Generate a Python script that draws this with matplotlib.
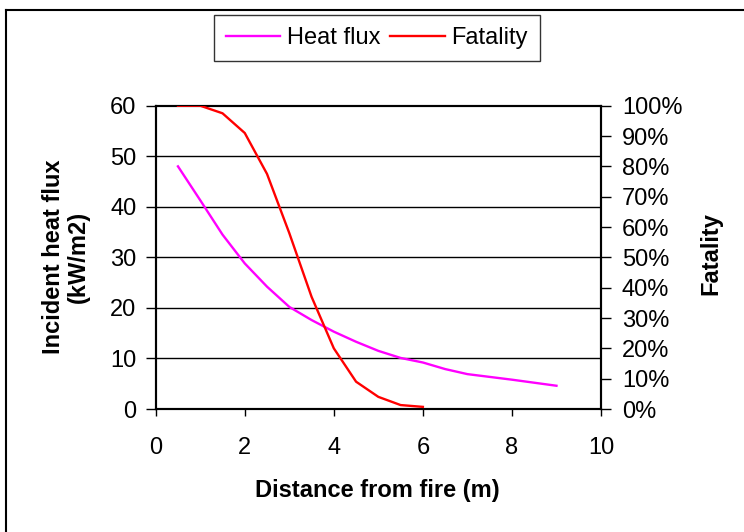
import matplotlib
matplotlib.use("Agg")
import matplotlib.pyplot as plt
from matplotlib.lines import Line2D
from matplotlib.ticker import PercentFormatter, MultipleLocator

plt.rcParams['font.family'] = ['Liberation Sans', 'DejaVu Sans']

# Incident heat flux (kW/m2) versus distance from the fire (m)
flux_distance = [0.5, 1.0, 1.5, 2.0, 2.5, 3.0, 3.5, 4.0, 4.5, 5.0, 5.5, 6.0, 6.5, 7.0, 8.0, 9.0]
heat_flux = [48.0, 41.3, 34.5, 28.8, 24.2, 20.2, 17.6, 15.3, 13.3, 11.5, 10.1, 9.2, 7.9, 6.9, 5.8, 4.6]

# Probability of fatality versus distance from the fire (m)
fatality_distance = [0.5, 1.0, 1.5, 2.0, 2.5, 3.0, 3.5, 4.0, 4.5, 5.0, 5.5, 6.0]
fatality = [1.00, 1.00, 0.975, 0.91, 0.775, 0.58, 0.37, 0.20, 0.09, 0.04, 0.013, 0.007]

x_ticks = [0, 2, 4, 6, 8, 10]
flux_ticks = [0, 10, 20, 30, 40, 50, 60]

fig = plt.figure(figsize=(7.44, 5.32), dpi=100)
ax = fig.add_axes([155.7 / 744, 1 - 409 / 532, (601 - 155.7) / 744, (409 - 105.7) / 532])
ax2 = ax.twinx()

tick_fs = 17
label_fs = 17

# grid lines on the heat-flux axis
for v in flux_ticks[1:-1]:
    ax.axhline(v, color='black', lw=1.0, zorder=1)

l1, = ax.plot(flux_distance, heat_flux, color='#ff00ff', lw=1.7, zorder=3, label='Heat flux')
l2, = ax2.plot(fatality_distance, fatality, color='#ff0000', lw=1.7, zorder=3, label='Fatality')

ax.set_xlim(0, 10)
ax.set_ylim(0, 60)
ax2.set_ylim(0, 1)
ax.set_xticks(x_ticks)
ax.set_yticks(flux_ticks)
ax2.yaxis.set_major_locator(MultipleLocator(0.1))
ax2.yaxis.set_major_formatter(PercentFormatter(1.0, decimals=0))

for a in (ax, ax2):
    for s in a.spines.values():
        s.set_color('black')
        s.set_linewidth(1.5)

ax.tick_params(axis='x', direction='out', length=5, width=1.0, pad=15, labelsize=tick_fs)
ax.tick_params(axis='y', direction='out', length=7, width=1.0, pad=7, labelsize=tick_fs)
ax2.tick_params(axis='y', direction='out', length=7, width=1.0, pad=8, labelsize=tick_fs)

fig.text(377.5 / 744, 1 - 490 / 532, 'Distance from fire (m)', ha='center', va='center',
         fontsize=label_fs, fontweight='bold')
fig.text(66 / 744, 1 - 257 / 532, 'Incident heat flux\n(kW/m2)', ha='center', va='center',
         rotation=90, multialignment='center', fontsize=label_fs, fontweight='bold',
         linespacing=1.1)
fig.text(711 / 744, 1 - 254 / 532, 'Fatality', ha='center', va='center', rotation=90,
         fontsize=label_fs, fontweight='bold')

leg = fig.legend(handles=[l1, l2], loc='center', bbox_to_anchor=(377 / 744, 1 - 38 / 532),
                 ncol=2, fontsize=17, frameon=True, fancybox=False, handlelength=2.3,
                 handletextpad=0.3, columnspacing=0.4, borderpad=0.5, borderaxespad=0)
leg.get_frame().set_edgecolor('black')
leg.get_frame().set_linewidth(1.0)

# chart-area border (top and left edges)
y_top = 1 - 9.5 / 532
x_left = 5.5 / 744
fig.add_artist(Line2D([x_left, 1.0], [y_top, y_top], transform=fig.transFigure, color='black', lw=1.5))
fig.add_artist(Line2D([x_left, x_left], [0.0, y_top], transform=fig.transFigure, color='black', lw=1.5))

fig.savefig('out.png', dpi=100, facecolor='white')
